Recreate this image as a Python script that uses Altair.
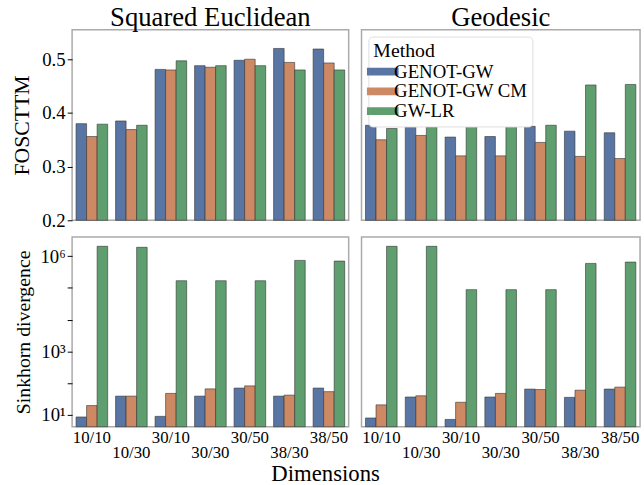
import altair as alt
import pandas as pd

dims = ["10/10", "10/30", "30/10", "30/30", "30/50", "38/30", "38/50"]
methods = ["GENOT-GW", "GENOT-GW CM", "GW-LR"]
colors = ["#5875A4", "#CC8963", "#5F9E6E"]

fos_euc_genot = [0.380, 0.385, 0.481, 0.488, 0.498, 0.520, 0.519]
fos_euc_cm = [0.356, 0.369, 0.480, 0.485, 0.500, 0.494, 0.493]
fos_euc_lr = [0.379, 0.377, 0.497, 0.488, 0.488, 0.480, 0.480]
fos_geo_genot = [0.377, 0.382, 0.355, 0.356, 0.375, 0.366, 0.363]
fos_geo_cm = [0.350, 0.358, 0.320, 0.320, 0.345, 0.319, 0.315]
fos_geo_lr = [0.371, 0.374, 0.376, 0.376, 0.377, 0.452, 0.453]
sd_euc_genot = [8.6, 39, 9, 39, 70, 39, 70]
sd_euc_cm = [19.7, 39, 47.5, 66, 82, 42, 54]
sd_euc_lr = [2.04e6, 1.9e6, 1.68e5, 1.68e5, 1.68e5, 7.35e5, 7.0e5]
sd_geo_genot = [8.0, 36.6, 7.2, 36.6, 65, 35.7, 65]
sd_geo_cm = [20.7, 40, 25, 47.5, 63, 60, 75]
sd_geo_lr = [2.04e6, 2.04e6, 8.8e4, 8.8e4, 8.8e4, 5.9e5, 6.5e5]

FONT = "Liberation Serif"


def frame(series):
    rows = []
    for m, vals in zip(methods, series):
        for d, v in zip(dims, vals):
            rows.append({"Dimensions": d, "Method": m, "value": v})
    return pd.DataFrame(rows)


stagger = ("indexof(['10/30','30/30','38/30'], datum.label) >= 0 "
           "? ['', datum.label] : datum.label")
logfmt = ("abs(datum.value-10)<0.5 ? '10¹' : abs(datum.value-1000)<1 ? '10³' : "
          "abs(datum.value-1000000)<1 ? '10⁶' : ''")


def panel(series, top, left, legend, w, h, title=None):
    df = frame(series)
    if top:
        ymin = 0.2
        yscale = alt.Scale(domain=[0.2, 0.555], zero=False, clamp=True)
        yaxis = alt.Axis(values=[0.2, 0.3, 0.4, 0.5], format=".1f", title="FOSCTTM",
                         grid=False, domain=False, ticks=True, tickSize=5,
                         labelFontSize=19, titleFontSize=22, titlePadding=8) if left else None
    else:
        ymin = 1.0
        yscale = alt.Scale(type="log", domain=[4.24, 3.98e6], clamp=True)
        yaxis = alt.Axis(values=[10, 100, 1000, 1e4, 1e5, 1e6], labelExpr=logfmt,
                         title="Sinkhorn divergence", grid=False, domain=False, ticks=True,
                         tickSize=5, labelFontSize=19, titleFontSize=20, titlePadding=6) if left else None
    if top:
        xaxis = None
    else:
        xaxis = alt.Axis(title=None, labelAngle=0, labelExpr=stagger, ticks=False, domain=False,
                         labelFontSize=17, labelLineHeight=15, labelPadding=3)
    leg = None
    if legend:
        leg = alt.Legend(title="Method", orient="top-left", offset=7, fillColor="white",
                         strokeColor="#dddddd", cornerRadius=4, padding=5,
                         titleFontSize=20, labelFontSize=19, titleFontWeight="normal",
                         titlePadding=1,
                         symbolType="M-2,-0.5L2,-0.5L2,0.5L-2,0.5Z", symbolSize=256,
                         symbolStrokeWidth=0, rowPadding=0, labelOffset=2, zindex=1)
    ch = alt.Chart(df).mark_bar(stroke="#333333", strokeWidth=0.6).encode(
        x=alt.X("Dimensions:N", sort=dims, axis=xaxis,
                scale=alt.Scale(paddingInner=0.2, paddingOuter=0.1)),
        xOffset=alt.XOffset("Method:N", sort=methods),
        y=alt.Y("value:Q", scale=yscale, axis=yaxis),
        y2=alt.datum(ymin),
        color=alt.Color("Method:N", sort=methods,
                        scale=alt.Scale(domain=methods, range=colors), legend=leg),
    ).properties(width=w, height=h)
    if title:
        ch = ch.properties(title=alt.Title(title, fontSize=27, font=FONT,
                                           fontWeight="normal", offset=-2))
    return ch


tl = panel([fos_euc_genot, fos_euc_cm, fos_euc_lr], True, True, False, 280, 193, "Squared Euclidean")
tr = panel([fos_geo_genot, fos_geo_cm, fos_geo_lr], True, False, True, 282, 193, "Geodesic")
bl = panel([sd_euc_genot, sd_euc_cm, sd_euc_lr], False, True, False, 280, 192)
br = panel([sd_geo_genot, sd_geo_cm, sd_geo_lr], False, False, False, 282, 192)

top = alt.hconcat(tl, tr, spacing=11).resolve_legend(color="independent")
bottom = alt.hconcat(bl, br, spacing=11).resolve_legend(color="independent")

chart = alt.vconcat(top, bottom, spacing=5).properties(
    title=alt.Title("Dimensions", orient="bottom", anchor="middle", fontSize=23,
                    font=FONT, fontWeight="normal", offset=2),
    padding={"left": 10, "top": 0, "right": 3, "bottom": 0},
).configure_view(
    stroke="#aaaaaa", strokeWidth=1.5
).configure_axis(
    labelFont=FONT, titleFont=FONT, titleFontWeight="normal", labelColor="black",
    titleColor="black", tickColor="black"
).configure_legend(
    labelFont=FONT, titleFont=FONT
).resolve_legend(color="independent")

chart.save("out.html", embed_options={"renderer": "svg", "actions": False})
